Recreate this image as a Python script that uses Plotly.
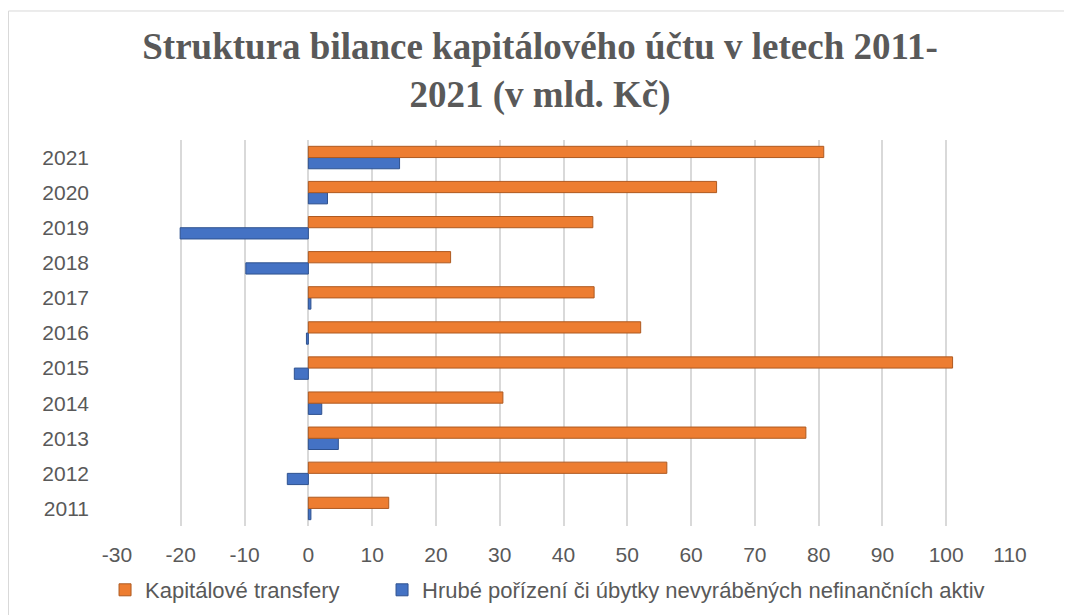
import plotly.graph_objects as go

# data (mld. Kč)
roky = ['2011', '2012', '2013', '2014', '2015', '2016', '2017', '2018', '2019', '2020', '2021']
kapitalove_transfery = [12.6, 56.2, 78.0, 30.5, 101.0, 52.1, 44.8, 22.3, 44.6, 64.0, 80.8]
hrube_porizeni = [0.4, -3.3, 4.7, 2.1, -2.2, -0.3, 0.4, -9.8, -20.1, 3.0, 14.3]
x_ticks = [-30, -20, -10, 0, 10, 20, 30, 40, 50, 60, 70, 80, 90, 100, 110]
x_tick_labels = ['-30', '-20', '-10', '0', '10', '20', '30', '40', '50', '60', '70', '80', '90', '100', '110']

text_color = '#595959'
font_family = 'Liberation Sans, Arial, sans-serif'

fig = go.Figure()

# blue first so that the orange bar sits above it in each group
fig.add_trace(go.Bar(
    y=roky,
    x=hrube_porizeni,
    orientation='h',
    name='Hrubé pořízení či úbytky nevyráběných nefinančních aktiv',
    marker=dict(color='#4472C4', line=dict(color='#2F528F', width=1)),
    legend='legend2',
    showlegend=True,
))
fig.add_trace(go.Bar(
    y=roky,
    x=kapitalove_transfery,
    orientation='h',
    name='Kapitálové transfery',
    marker=dict(color='#ED7D31', line=dict(color='#AE5A21', width=1)),
    legend='legend',
    showlegend=True,
))

legend_style = dict(
    orientation='h',
    xanchor='left',
    y=-0.1658,
    yanchor='middle',
    font=dict(size=22, color=text_color),
)

fig.update_layout(
    width=1072,
    height=615,
    margin=dict(l=109, r=70, t=132, b=97, autoexpand=False),
    paper_bgcolor='white',
    plot_bgcolor='white',
    showlegend=True,
    barmode='group',
    bargap=0.36,
    bargroupgap=0,
    font=dict(family=font_family, size=21, color=text_color),
    title=dict(
        text='Struktura bilance kapitálového účtu v letech 2011-<br>2021 (v mld. Kč)',
        font=dict(family='Liberation Serif, Times New Roman, serif', size=37,
                  color=text_color, weight='bold'),
        x=0.4963,
        xanchor='center',
        y=1 - 51 / 615,
        yanchor='middle',
        yref='container',
        automargin=False,
    ),
    xaxis=dict(
        range=[-30, 110],
        tickvals=x_ticks,
        ticktext=x_tick_labels,
        showgrid=True,
        gridcolor='#d9d9d9',
        gridwidth=2,
        zeroline=False,
        showline=False,
        ticks='',
        automargin=False,
        ticklabelstandoff=14,
        tickfont=dict(size=21, color=text_color),
    ),
    yaxis=dict(
        type='category',
        showgrid=False,
        zeroline=False,
        showline=False,
        ticks='',
        automargin=False,
        ticklabelstandoff=27,
        tickfont=dict(size=21, color=text_color),
    ),
    legend=dict(x=-0.0134, **legend_style),
    legend2=dict(x=0.2968, **legend_style),
    shapes=[dict(
        type='rect',
        xref='paper', yref='paper',
        x0=-0.1215, x1=1.1, y0=1.3342, y1=-0.3,
        line=dict(color='#d9d9d9', width=1),
        layer='below',
    )],
)

fig.write_html('out.html')
